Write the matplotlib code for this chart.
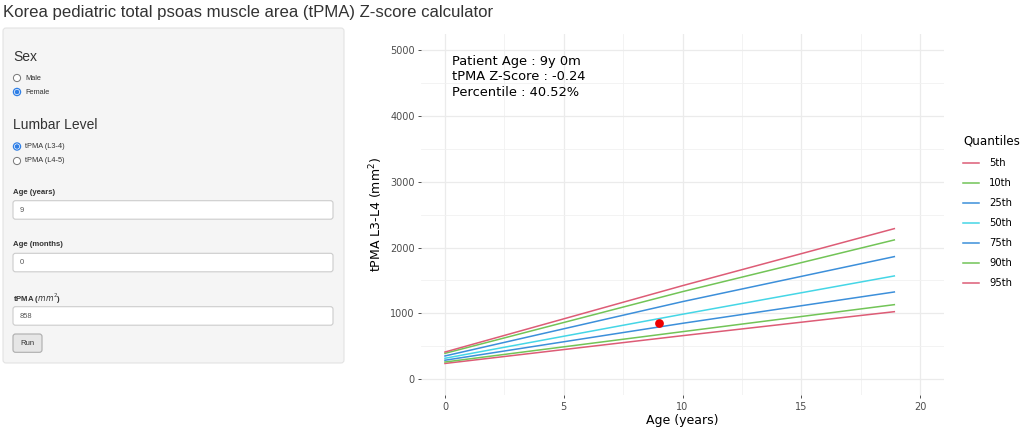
import matplotlib
matplotlib.use("Agg")
import matplotlib.pyplot as plt
from matplotlib.patches import FancyBboxPatch, Circle

# ---------------- data ----------------
ages = [0, 10, 18.917]
q_labels = ["5th", "10th", "25th", "50th", "75th", "90th", "95th"]
q05 = [236, 659, 1024]
q10 = [258, 720, 1131]
q25 = [285, 847, 1324]
q50 = [315, 985, 1568]
q75 = [350, 1177, 1862]
q90 = [390, 1329, 2116]
q95 = [410, 1420, 2288]
q_series = [q05, q10, q25, q50, q75, q90, q95]
q_colors = ["#DD5C76", "#72C457", "#3C8FDA", "#45D6E6", "#3C8FDA", "#72C457", "#DD5C76"]

patient_age = 9.0
patient_tpma = 858
annot_lines = ["Patient Age : 9y 0m", "tPMA Z-Score : -0.24", "Percentile : 40.52%"]

x_ticks = [0, 5, 10, 15, 20]
y_ticks = [0, 1000, 2000, 3000, 4000, 5000]

W, H = 1026, 432
fig = plt.figure(figsize=(W / 100, H / 100), dpi=100)
fig.patch.set_facecolor("white")

# ---------------- UI overlay ----------------
ui = fig.add_axes([0, 0, 1, 1])
ui.set_xlim(0, W)
ui.set_ylim(H, 0)
ui.axis("off")
UI_FONT = ["Liberation Sans", "DejaVu Sans"]

ui.text(3, 13, "Korea pediatric total psoas muscle area (tPMA) Z-score calculator",
        fontsize=12.1, color="#333333", family=UI_FONT, va="center", ha="left")

panel = FancyBboxPatch((3, 28), 341, 335, boxstyle="round,pad=0,rounding_size=3",
                       facecolor="#f5f5f5", edgecolor="#e3e3e3", linewidth=0.8)
ui.add_patch(panel)

ui.text(13, 57, "Sex", fontsize=10, color="#333333", family=UI_FONT, va="center")
ui.text(13, 125, "Lumbar Level", fontsize=10, color="#333333", family=UI_FONT, va="center")


def radio(y, label, checked):
    if checked:
        ui.add_patch(Circle((17, y), 3.6, facecolor="white", edgecolor="#2f7fe6", linewidth=0.9))
        ui.add_patch(Circle((17, y), 2.3, facecolor="#2f7fe6", edgecolor="none"))
    else:
        ui.add_patch(Circle((17, y), 3.6, facecolor="white", edgecolor="#777777", linewidth=0.7))
    ui.text(25, y, label, fontsize=5.3, color="#333333", family=UI_FONT, va="center")


radio(78, "Male", False)
radio(92, "Female", True)
radio(146.5, "tPMA (L3-4)", True)
radio(161, "tPMA (L4-5)", False)


def input_box(y_label, y_box, label, value):
    ui.text(13, y_label, label, fontsize=5.6, color="#333333", family=UI_FONT,
            fontweight="bold", va="center")
    box = FancyBboxPatch((13, y_box), 320, 18.5, boxstyle="round,pad=0,rounding_size=2.5",
                         facecolor="white", edgecolor="#cccccc", linewidth=0.8)
    ui.add_patch(box)
    ui.text(19.5, y_box + 9.5, value, fontsize=5.4, color="#555555", family=UI_FONT, va="center")


input_box(192.5, 200.7, "Age (years)", "9")
input_box(245, 253.3, "Age (months)", "0")
input_box(299, 306.7, r"tPMA ($mm^2$)", "858")

btn = FancyBboxPatch((13, 334), 29, 18.3, boxstyle="round,pad=0,rounding_size=2.5",
                     facecolor="#e6e6e6", edgecolor="#adadad", linewidth=0.8)
ui.add_patch(btn)
ui.text(27.5, 343.3, "Run", fontsize=5.6, color="#333333", family=UI_FONT, va="center", ha="center")

# ---------------- plot ----------------
left, right, top, bottom = 421.2, 943.8, 34.0, 395.4
ax = fig.add_axes([left / W, (H - bottom) / H, (right - left) / W, (bottom - top) / H])
ax.set_facecolor("white")
ax.set_xlim(-1, 21)
ax.set_ylim(-250, 5250)
for s in ax.spines.values():
    s.set_visible(False)

ax.set_xticks(x_ticks)
ax.set_yticks(y_ticks)
ax.set_xticks([2.5, 7.5, 12.5, 17.5], minor=True)
ax.set_yticks([500, 1500, 2500, 3500, 4500], minor=True)
ax.grid(True, which="major", color="#ebebeb", linewidth=0.9)
ax.grid(True, which="minor", color="#f1f1f1", linewidth=0.6)
ax.set_axisbelow(True)
ax.tick_params(axis="both", which="major", length=2.5, width=0.6, color="#333333",
               labelsize=7, labelcolor="#4d4d4d", pad=2.0)
ax.tick_params(axis="both", which="minor", length=0)

handles = []
for lab, vals, col in zip(q_labels, q_series, q_colors):
    ln, = ax.plot(ages, vals, color=col, linewidth=1.1, label=lab)
    handles.append(ln)

ax.plot([patient_age], [patient_tpma], "o", color="#ee0000", markersize=6.3,
        markeredgewidth=0, zorder=5)

for i, t in enumerate(annot_lines):
    ax.text(452.3, 61.3 + i * 15.7, t, transform=ui.transData, fontsize=9.4,
            color="black", va="center", ha="left", family="DejaVu Sans")

ax.set_xlabel("Age (years)", fontsize=9, color="black", labelpad=1.5)
ax.set_ylabel(r"tPMA L3-L4 (mm$^2$)", fontsize=9, color="black", labelpad=4)

leg = ax.legend(handles=handles, title="Quantiles", loc="upper left",
                bbox_to_anchor=(959 / W, (H - 131) / H), bbox_transform=fig.transFigure,
                frameon=False, fontsize=7.2, title_fontsize=8.6, handlelength=1.6,
                handletextpad=1.0, labelspacing=1.0, alignment="left", borderaxespad=0)

fig.savefig("out.png", dpi=100, facecolor="white")
